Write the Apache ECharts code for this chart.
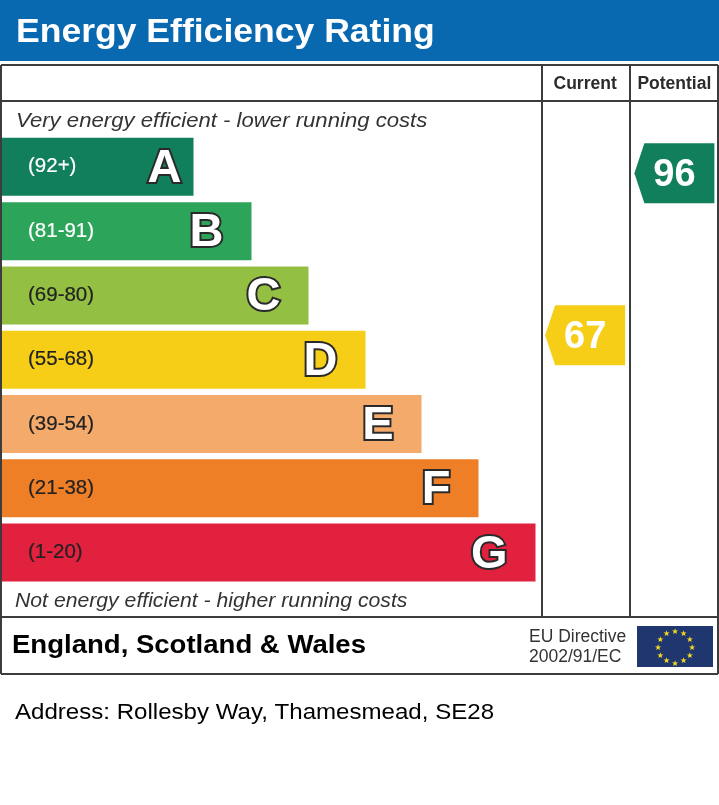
<!DOCTYPE html>
<html><head><meta charset="utf-8">
<style>html,body{margin:0;padding:0;background:#fff}#c{width:719px;height:805px}</style>
<script src="https://cdn.jsdelivr.net/npm/echarts@6/dist/echarts.min.js"></script>
</head><body><div id="c"></div>
<script>
const title = 'Energy Efficiency Rating';
const bandLetters = ['A','B','C','D','E','F','G'];
const bandRanges = ['(92+)','(81-91)','(69-80)','(55-68)','(39-54)','(21-38)','(1-20)'];
const bandLengths = [191.5,249.5,306.5,363.5,419.5,476.5,533.5];
const bandColors = ['#117f5b','#2ca55a','#93bf42','#f6ce17','#f3aa6b','#ee7f27','#e1213d'];
const rangeColors = ['#ffffff','#ffffff','#222222','#222222','#222222','#222222','#222222'];
const columns = ['Current','Potential'];
const ratings = [67,96];
const ratingColors = ['#f6ce17','#117f5b'];
const topNote = 'Very energy efficient - lower running costs';
const bottomNote = 'Not energy efficient - higher running costs';
const region = 'England, Scotland & Wales';
const directive = ['EU Directive','2002/91/EC'];
const address = 'Address: Rollesby Way, Thamesmead, SE28';

const FONT = '"Liberation Sans", Arial, sans-serif';
const LINE = '#3c3c3c';
const chart = echarts.init(document.getElementById('c'), null, {renderer:'canvas'});
const ln = (x1,y1,x2,y2,w) => ({type:'line',shape:{x1,y1,x2,y2},style:{stroke:LINE,lineWidth:w||2},z:5});
const tx = (x,y,text,font,fill,sx) => ({type:'text',x,y,z:6,scaleX:sx||1,style:{text,font,fill,textVerticalAlign:'middle'}});
const stars = [];
for (let i=0;i<12;i++){
  const a = i*Math.PI/6;
  stars.push({type:'text',x:675+17*Math.sin(a),y:647.5-16*Math.cos(a),z:7,
    style:{text:'★',font:'8px "DejaVu Sans"',fill:'#f5dc1e',textAlign:'center',textVerticalAlign:'middle'}});
}
const arrow = 'path://M10 0 L80 0 L80 60 L10 60 L0 30 Z';
chart.setOption({
  animation:false,
  backgroundColor:'#ffffff',
  grid:[
    {left:2,top:134.7,width:716,height:450,containLabel:false},
    {left:540.5,top:151,width:180,height:558}
  ],
  xAxis:[
    {gridIndex:0,type:'value',min:0,max:716,show:false},
    {gridIndex:1,type:'category',data:columns,position:'top',
      axisLine:{show:false},axisTick:{show:false},splitLine:{show:false},
      axisLabel:{show:true,interval:0,margin:58,color:'#2b2b2b',fontFamily:FONT,fontWeight:'bold',fontSize:17.5}}
  ],
  yAxis:[
    {gridIndex:0,type:'category',inverse:true,data:bandLetters,show:false},
    {gridIndex:1,type:'value',min:0,max:100,show:false}
  ],
  series:[
    {type:'bar',xAxisIndex:0,yAxisIndex:0,barWidth:58,barGap:'-100%',silent:true,
      data:bandLengths.map((v,i)=>({value:v,itemStyle:{color:bandColors[i]},
        label:{show:true,position:'insideLeft',distance:26,formatter:bandRanges[i],
          color:rangeColors[i],fontFamily:FONT,fontSize:20.5,textBorderColor:rangeColors[i],textBorderWidth:0.2}}))},
    {type:'bar',xAxisIndex:0,yAxisIndex:0,barWidth:58,barGap:'-100%',silent:true,
      itemStyle:{color:'transparent'},
      data:bandLengths.map((v,i)=>({value:v,
        label:{show:true,position:'insideRight',distance:i===0?12:28,formatter:bandLetters[i],
          color:'#ffffff',fontFamily:FONT,fontWeight:'bold',fontSize:47,
          textBorderColor:'#2a2a2a',textBorderWidth:4,offset:[0,2]}}))},
    {type:'scatter',xAxisIndex:1,yAxisIndex:1,symbol:arrow,symbolSize:[80,60],silent:true,
      data:ratings.map((v,i)=>({value:[columns[i],v],itemStyle:{color:ratingColors[i],opacity:1},
        label:{show:true,position:'inside',formatter:String(v),color:'#ffffff',
          fontFamily:FONT,fontWeight:'bold',fontSize:38,offset:[0,2]}}))}
  ],
  graphic:[
    {type:'rect',shape:{x:0,y:0,width:719,height:61},style:{fill:'#0869b1'},z:1},
    tx(16,32.5,title,'bold 33px '+FONT,'#ffffff',1.077),
    ln(1,65,718,65), ln(1,674,718,674), ln(1,65,1,674), ln(718,65,718,674),
    ln(1,101,718,101), ln(1,617,718,617), ln(542,65,542,617), ln(630,65,630,617),
    tx(16,121,topNote,'italic 21px '+FONT,'#333333',1.054),
    tx(15,601,bottomNote,'italic 20px '+FONT,'#333333',1.06),
    tx(12,646,region,'bold 25.5px '+FONT,'#000000',1.08),
    tx(529,637,directive[0],'17.5px '+FONT,'#333333'),
    tx(529,657,directive[1],'17.5px '+FONT,'#333333'),
    {type:'rect',shape:{x:637,y:626,width:76,height:41},style:{fill:'#20366f'},z:6},
    ...stars,
    tx(15,713,address,'22.5px '+FONT,'#000000',1.07)
  ]
});
</script></body></html>
